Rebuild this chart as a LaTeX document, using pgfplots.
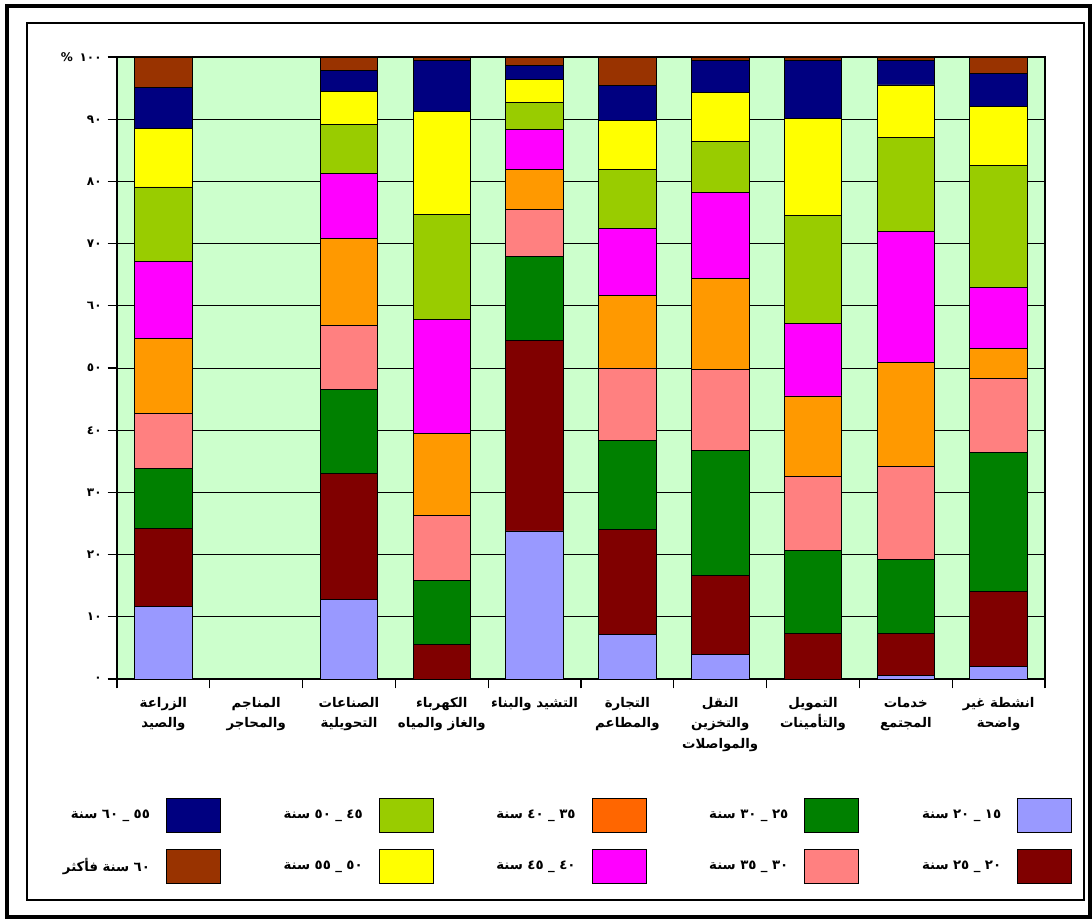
\documentclass[border=0pt]{standalone}
\usepackage{fontspec}
\usepackage{pgfplots}
\usepackage{pgfplotstable}
\pgfplotsset{compat=1.18}
\TeXXeTstate=1
\setmainfont{DejaVu Sans}
\newfontfamily\arabicfont[Script=Arabic]{DejaVu Sans}
\definecolor{cA}{HTML}{9999FF}
\definecolor{cB}{HTML}{800000}
\definecolor{cC}{HTML}{008000}
\definecolor{cD}{HTML}{FF8080}
\definecolor{cE}{HTML}{FF9900}
\definecolor{cEl}{HTML}{FF6600}
\definecolor{cF}{HTML}{FF00FF}
\definecolor{cG}{HTML}{99CC00}
\definecolor{cH}{HTML}{FFFF00}
\definecolor{cI}{HTML}{000080}
\definecolor{cJ}{HTML}{993300}
\definecolor{bggreen}{HTML}{CCFFCC}

\pgfplotstableread{
x a b c d e f g h i j
0 11.7 12.5 9.6 8.9 12.0 12.4 12.0 9.4 6.6 4.9
1 0 0 0 0 0 0 0 0 0 0
2 12.8 20.3 13.4 10.4 13.9 10.5 7.9 5.3 3.4 2.1
3 0 5.5 10.3 10.5 13.2 18.3 16.9 16.6 8.2 0.5
4 23.8 30.6 13.5 7.6 6.4 6.4 4.4 3.7 2.3 1.3
5 7.1 16.9 14.4 11.6 11.6 10.9 9.4 7.9 5.6 4.6
6 3.9 12.7 20.1 13.0 14.7 13.8 8.2 7.9 5.2 0.5
7 0 7.3 13.4 11.8 13.0 11.7 17.3 15.6 9.4 0.5
8 0.6 6.7 11.9 14.9 16.8 21.0 15.2 8.4 4.0 0.5
9 2.0 12.1 22.3 11.9 4.9 9.8 19.6 9.4 5.4 2.6
}\data

\begin{document}
\begin{tikzpicture}
\useasboundingbox (0,0) rectangle (819pt,690.75pt);
\fill[white] (0,0) rectangle (819pt,690.75pt);
\draw[line width=3pt] (5.25pt,686.25pt) rectangle (817.5pt,3pt);
\draw[line width=0.9pt] (20.25pt,673.5pt) rectangle (813pt,15.75pt);
\begin{axis}[
  at={(87.75pt,181.5pt)}, anchor=south west,
  scale only axis, width=696pt, height=466.5pt,
  ybar stacked, bar width=0.62,
  xmin=-0.5, xmax=9.5, ymin=0, ymax=100,
  axis background/.style={fill=bggreen},
  axis line style={black, line width=0.8pt},
  ymajorgrids, grid style={black, line width=0.6pt},
  tick align=outside, xtick pos=bottom, ytick pos=left,
  major tick length=7pt, minor tick length=7pt,
  tick style={black, line width=0.8pt},
  xtick={0,...,9},
  major x tick style={draw=none},
  minor xtick={-0.5,0.5,...,9.5},
  ytick={0,10,...,100},
  yticklabels={٠,١٠,٢٠,٣٠,٤٠,٥٠,٦٠,٧٠,٨٠,٩٠,{\hbox{\%}\hspace{5pt}\hbox{١٠٠}}},
  yticklabel style={font=\arabicfont\bfseries\fontsize{9}{10}\selectfont, xshift=-1pt},
  xticklabels={
    {\beginR الزراعة\endR\\\beginR والصيد\endR},
    {\beginR المناجم\endR\\\beginR والمحاجر\endR},
    {\beginR الصناعات\endR\\\beginR التحويلية\endR},
    {\beginR الكهرباء\endR\\\beginR والغاز والمياه\endR},
    {\beginR التشيد والبناء\endR},
    {\beginR التجارة\endR\\\beginR والمطاعم\endR},
    {\beginR النقل\endR\\\beginR والتخزين\endR\\\beginR والمواصلات\endR},
    {\beginR التمويل\endR\\\beginR والتأمينات\endR},
    {\beginR خدمات\endR\\\beginR المجتمع\endR},
    {\beginR انشطة غير\endR\\\beginR واضحة\endR}},
  xticklabel style={font=\arabicfont\bfseries\fontsize{10}{15.5}\selectfont, align=center, anchor=north, yshift=-3pt},
  every axis plot/.append style={draw=black, line width=0.6pt},
  legend image code/.code={\draw[#1, draw=black, line width=0.6pt] (0pt,-12.75pt) rectangle (40.5pt,12.75pt);},
  legend plot pos=right,
  legend columns=5,
  legend style={at={(1.0291,-0.1913)}, anchor=north east, draw=none, fill=none,
    inner sep=0pt, outer sep=0pt,
    nodes={text width=78pt, align=right, inner sep=0pt, font=\arabicfont\bfseries\fontsize{10}{11}\selectfont},
    /tikz/every odd column/.append style={column sep=12pt},
    /tikz/every even column/.append style={column sep=28.5pt},
    /tikz/row sep=12pt},
]
\addplot[fill=cA, forget plot] table[x=x,y=a]{\data};
\addplot[fill=cB, forget plot] table[x=x,y=b]{\data};
\addplot[fill=cC, forget plot] table[x=x,y=c]{\data};
\addplot[fill=cD, forget plot] table[x=x,y=d]{\data};
\addplot[fill=cE, forget plot] table[x=x,y=e]{\data};
\addplot[fill=cF, forget plot] table[x=x,y=f]{\data};
\addplot[fill=cG, forget plot] table[x=x,y=g]{\data};
\addplot[fill=cH, forget plot] table[x=x,y=h]{\data};
\addplot[fill=cI, forget plot] table[x=x,y=i]{\data};
\addplot[fill=cJ, forget plot] table[x=x,y=j]{\data};
\addlegendimage{fill=cI}\addlegendentry{\beginR ٥٥ \_ ٦٠ سنة\endR}
\addlegendimage{fill=cG}\addlegendentry{\beginR ٤٥ \_ ٥٠ سنة\endR}
\addlegendimage{fill=cEl}\addlegendentry{\beginR ٣٥ \_ ٤٠ سنة\endR}
\addlegendimage{fill=cC}\addlegendentry{\beginR ٢٥ \_ ٣٠ سنة\endR}
\addlegendimage{fill=cA}\addlegendentry{\beginR ١٥ \_ ٢٠ سنة\endR}
\addlegendimage{fill=cJ}\addlegendentry{\beginR ٦٠ سنة فأكثر\endR}
\addlegendimage{fill=cH}\addlegendentry{\beginR ٥٠ \_ ٥٥ سنة\endR}
\addlegendimage{fill=cF}\addlegendentry{\beginR ٤٠ \_ ٤٥ سنة\endR}
\addlegendimage{fill=cD}\addlegendentry{\beginR ٣٠ \_ ٣٥ سنة\endR}
\addlegendimage{fill=cB}\addlegendentry{\beginR ٢٠ \_ ٢٥ سنة\endR}
\end{axis}
\end{tikzpicture}
\end{document}
